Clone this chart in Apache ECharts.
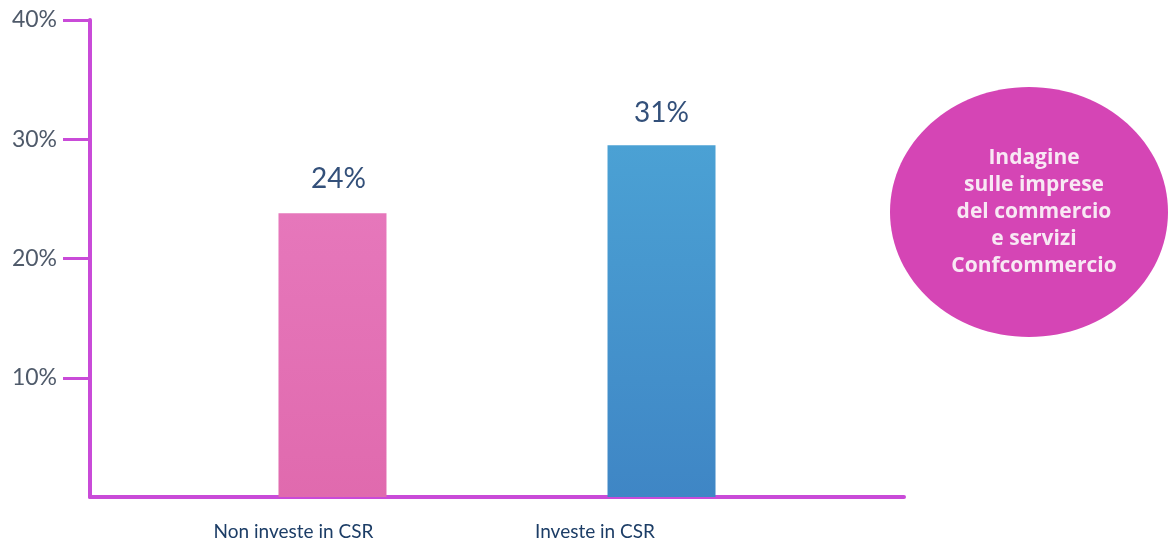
<!DOCTYPE html>
<html><head><meta charset="utf-8">
<script src="https://cdn.jsdelivr.net/npm/echarts@6/dist/echarts.min.js"></script>
<style>html,body{margin:0;padding:0;background:#fff}#c{width:1168px;height:543px}</style>
</head><body><div id="c"></div>
<script>
const categories = ['Non investe in CSR', 'Investe in CSR'];
const pinkValues = [23.8, null];
const blueValues = [null, 29.5];
const valueLabels = ['24%', '31%'];
const yTicks = [0, 10, 20, 30, 40];
const noteLines = ['Indagine', 'sulle imprese', 'del commercio', 'e servizi', 'Confcommercio'];

const axisColor = '#c94bd8';
const chart = echarts.init(document.getElementById('c'), null, {renderer: 'canvas'});
chart.setOption({
  animation: false,
  grid: {left: 90, top: 20, width: 814, bottom: 46, containLabel: false},
  xAxis: {
    type: 'category', data: categories,
    axisLine: {lineStyle: {color: axisColor, width: 4}},
    axisTick: {show: false},
    axisLabel: {
      margin: 25,
      formatter: (v, i) => i === 0 ? '{a|' + v + '}' : '{b|' + v + '}',
      rich: {
        a: {fontFamily: 'Lato', fontSize: 19, color: '#1c3d66'},
        b: {fontFamily: 'Lato', fontSize: 19, color: '#1c3d66', padding: [0, 211, 0, 0]}
      }
    }
  },
  yAxis: {
    type: 'value', min: yTicks[0], max: yTicks[yTicks.length - 1], interval: 10,
    axisLine: {show: true, lineStyle: {color: axisColor, width: 4}},
    axisTick: {show: true, length: 27, customValues: yTicks.slice(1), lineStyle: {color: axisColor, width: 3}},
    splitLine: {show: false},
    axisLabel: {
      margin: 33, fontFamily: 'Lato', fontSize: 23, color: '#4f5a6a',
      customValues: yTicks.slice(1),
      formatter: v => v + '%'
    }
  },
  series: [
    {
      type: 'bar', data: blueValues, barWidth: 108, barGap: '-27.8%',
      itemStyle: {color: new echarts.graphic.LinearGradient(0, 0, 0, 1, [
        {offset: 0, color: '#4ba1d4'}, {offset: 1, color: '#3f86c5'}])},
      label: {show: true, position: 'top', distance: 18,
        formatter: p => valueLabels[p.dataIndex],
        fontFamily: 'Lato', fontSize: 28, color: '#33507a'}
    },
    {
      type: 'bar', data: pinkValues, barWidth: 108,
      itemStyle: {color: new echarts.graphic.LinearGradient(0, 0, 0, 1, [
        {offset: 0, color: '#e677bb'}, {offset: 1, color: '#e06aae'}])},
      label: {show: true, position: 'top', distance: 20, offset: [6, 0],
        formatter: p => valueLabels[p.dataIndex],
        fontFamily: 'Lato', fontSize: 28, color: '#33507a'}
    }
  ],
  graphic: [
    {type: 'ellipse', shape: {cx: 1029, cy: 212, rx: 139, ry: 125},
      style: {fill: '#d545b5'}, z: 10},
    {type: 'text', x: 1034, y: 212, z: 11,
      style: {text: noteLines.join('\n'), fill: '#f8e8f4', fontFamily: 'Open Sans',
        fontWeight: 'bold', fontSize: 21, lineHeight: 27, align: 'center', verticalAlign: 'middle'}}
  ]
});
</script></body></html>
